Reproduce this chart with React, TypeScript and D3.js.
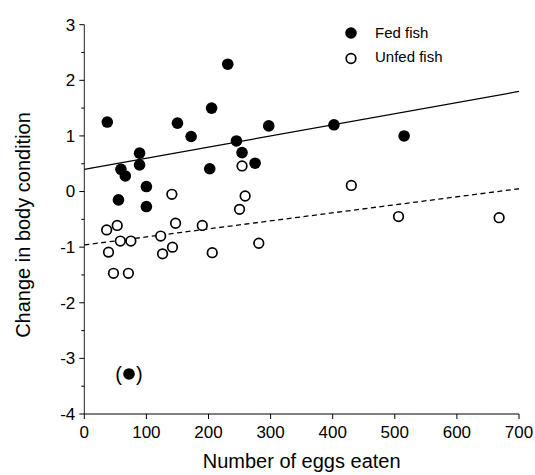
import React from 'react';
import * as d3 from 'd3';

// Fed fish: [eggs eaten, change in body condition]
const fedEggs = [37, 231, 205, 150, 172, 297, 245, 254, 275, 202, 89, 89, 59, 66, 100, 55, 100, 402, 515];
const fedChange = [1.25, 2.29, 1.5, 1.23, 0.99, 1.18, 0.91, 0.7, 0.51, 0.41, 0.69, 0.48, 0.4, 0.28, 0.09, -0.15, -0.27, 1.2, 1.0];

// Outlier, shown in parentheses
const outlierEggs = [72];
const outlierChange = [-3.28];

// Unfed fish
const unfedEggs = [141, 254, 259, 250, 36, 53, 58, 75, 39, 47, 71, 123, 147, 126, 142, 190, 206, 281, 430, 506, 668];
const unfedChange = [-0.05, 0.46, -0.08, -0.32, -0.69, -0.61, -0.89, -0.89, -1.09, -1.47, -1.47, -0.8, -0.57, -1.12, -1.0, -0.61, -1.1, -0.93, 0.11, -0.45, -0.47];

// Regression lines, endpoints at x = 0 and x = 700
const fitX = [0, 700];
const fedFit = [0.4, 1.8];
const unfedFit = [-0.96, 0.05];

const xTicks = [0, 100, 200, 300, 400, 500, 600, 700];
const yTicks = [-4, -3, -2, -1, 0, 1, 2, 3];
const yMinorTicks = [-3.5, -2.5, -1.5, -0.5, 0.5, 1.5, 2.5];

const legendLabels = ['Fed fish', 'Unfed fish'];

const font = 'Liberation Sans, Arial, sans-serif';

const App = () => {
  const width = 535;
  const height = 475;

  const x = d3.scaleLinear().domain([0, 700]).range([84.3, 519]);
  const y = d3.scaleLinear().domain([-4, 3]).range([414, 24.7]);

  const line = d3.line<number>()
    .x((d, i) => x(fitX[i]))
    .y(d => y(d));

  const r = 5.8; // filled dots
  const ro = 4.8; // open circles (plus stroke)

  return (
    <svg width={width} height={height} style={{ position: 'absolute', left: 0, top: 0, background: '#fff' }}>
      {/* axes */}
      <line x1={x(0)} x2={x(0)} y1={y(3)} y2={y(-4)} stroke="#222" strokeWidth={1} />
      <line x1={x(0)} x2={x(700)} y1={y(-4)} y2={y(-4)} stroke="#000" strokeWidth={1} />

      {yTicks.map(t => (
        <g key={'y' + t}>
          <line x1={x(0) - 5} x2={x(0)} y1={y(t)} y2={y(t)} stroke="#000" />
          <text x={x(0) - 9} y={y(t)} dy="0.35em" textAnchor="end" fontFamily={font} fontSize={17} fill="#000">
            {t}
          </text>
        </g>
      ))}
      {yMinorTicks.map(t => (
        <line key={'ym' + t} x1={x(0) - 3} x2={x(0)} y1={y(t)} y2={y(t)} stroke="#000" />
      ))}

      {xTicks.map(t => (
        <g key={'x' + t}>
          <line x1={x(t)} x2={x(t)} y1={y(-4)} y2={y(-4) + 5} stroke="#000" />
          <text x={x(t)} y={y(-4) + 24} textAnchor="middle" fontFamily={font} fontSize={17} fill="#000">
            {t}
          </text>
        </g>
      ))}

      {/* axis titles */}
      <text x={x(350)} y={468} textAnchor="middle" fontFamily={font} fontSize={20} fill="#000">
        Number of eggs eaten
      </text>
      <text transform="rotate(-90)" x={-225} y={29.5} textAnchor="middle" fontFamily={font} fontSize={20} fill="#000">
        Change in body condition
      </text>

      {/* regression lines */}
      <path d={line(fedFit) || ''} fill="none" stroke="#000" strokeWidth={1.3} />
      <path d={line(unfedFit) || ''} fill="none" stroke="#000" strokeWidth={1.3} strokeDasharray="5,3.5" />

      {/* points */}
      {unfedEggs.map((e, i) => (
        <circle key={'u' + i} cx={x(e)} cy={y(unfedChange[i])} r={ro} fill="#fff" stroke="#000" strokeWidth={1.7} />
      ))}
      {fedEggs.map((e, i) => (
        <circle key={'f' + i} cx={x(e)} cy={y(fedChange[i])} r={r} fill="#000" />
      ))}
      {outlierEggs.map((e, i) => (
        <g key={'o' + i}>
          <circle cx={x(e)} cy={y(outlierChange[i])} r={r} fill="#000" />
          <text x={x(e) - 7} y={y(outlierChange[i])} dy="0.35em" textAnchor="end" fontFamily={font} fontSize={20} fill="#000">(</text>
          <text x={x(e) + 7} y={y(outlierChange[i])} dy="0.35em" textAnchor="start" fontFamily={font} fontSize={20} fill="#000">)</text>
        </g>
      ))}

      {/* legend */}
      <circle cx={351} cy={33} r={r} fill="#000" />
      <circle cx={351} cy={58.5} r={ro} fill="#fff" stroke="#000" strokeWidth={1.7} />
      <text x={375} y={37.5} fontFamily={font} fontSize={15} fill="#000">{legendLabels[0]}</text>
      <text x={375} y={62} fontFamily={font} fontSize={15} fill="#000">{legendLabels[1]}</text>
    </svg>
  );
};

export default App;
